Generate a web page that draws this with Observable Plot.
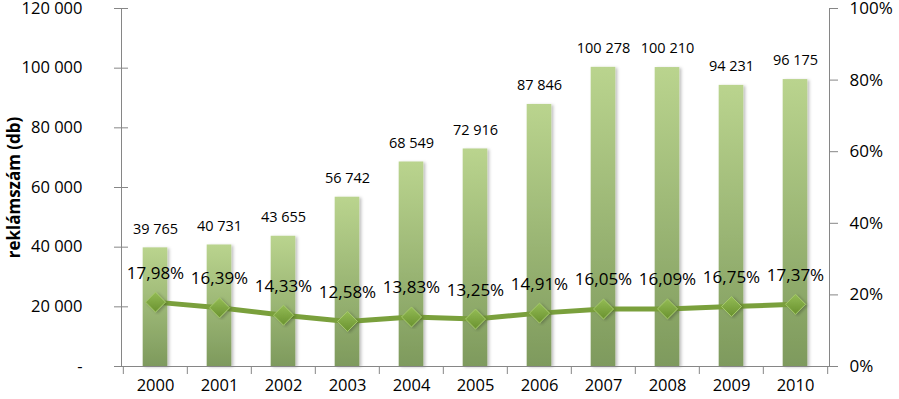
<!DOCTYPE html>
<html><head><meta charset="utf-8">
<script src="https://cdn.jsdelivr.net/npm/d3@7"></script>
<script src="https://cdn.jsdelivr.net/npm/@observablehq/plot@0.6"></script>
<style>body{margin:0;background:#fff;}</style>
</head><body><div id="chart"></div>
<script>
const years = ["2000","2001","2002","2003","2004","2005","2006","2007","2008","2009","2010"];
const counts = [39765, 40731, 43655, 56742, 68549, 72916, 87846, 100278, 100210, 94231, 96175];
const shares = [17.98, 16.39, 14.33, 12.58, 13.83, 13.25, 14.91, 16.05, 16.09, 16.75, 17.37];
const leftTicks = [0, 20000, 40000, 60000, 80000, 100000, 120000];
const rightTicks = [0, 20, 40, 60, 80, 100];
const yAxisLabel = "reklámszám (db)";

const K = 1200; // 100% on right axis <-> 120 000 on left axis
const data = years.map((y, i) => ({year: y, count: counts[i], share: shares[i], shareY: shares[i] * K}));

const fmtInt = d3.formatLocale({thousands: "\u00a0", grouping: [3], decimal: ","}).format(",d");
const fmtLeft = d => d === 0 ? "-" : fmtInt(d);
const fmtPct = d => d.toFixed(2).replace(".", ",") + "%";

const W = 899, H = 399, mL = 121, mR = 70, mT = 8, mB = 33;
const step = (W - mL - mR) / years.length;
const barW = 25;
const axisColor = "#868686";

const defs = () => {
  const g = d3.create("svg:defs");
  const lg = g.append("linearGradient").attr("id", "barGrad").attr("x1", 0).attr("y1", 0).attr("x2", 0).attr("y2", 1);
  lg.append("stop").attr("offset", "0%").attr("stop-color", "#bad48e");
  lg.append("stop").attr("offset", "100%").attr("stop-color", "#7e9a5d");
  const dg = g.append("linearGradient").attr("id", "dotGrad").attr("x1", 0).attr("y1", 0).attr("x2", 0).attr("y2", 1);
  dg.append("stop").attr("offset", "0%").attr("stop-color", "#93bb55");
  dg.append("stop").attr("offset", "100%").attr("stop-color", "#6a922f");
  const f = g.append("filter").attr("id", "shadow").attr("x", "-30%").attr("y", "-10%").attr("width", "160%").attr("height", "120%");
  f.append("feDropShadow").attr("dx", 2).attr("dy", 1).attr("stdDeviation", 1.6).attr("flood-color", "#000").attr("flood-opacity", 0.25);
  return g.node();
};

const chart = Plot.plot({
  width: W, height: H,
  marginLeft: mL, marginRight: mR, marginTop: mT, marginBottom: mB,
  style: {fontFamily: "'Open Sans', Lato, sans-serif", background: "#fff", color: "#000"},
  x: {domain: years, padding: 0, label: null},
  y: {domain: [0, 120000], label: null},
  marks: [
    defs,
    Plot.barY(data, {x: "year", y: "count", fill: "url(#barGrad)", insetLeft: (step - barW) / 2, insetRight: (step - barW) / 2}),
    Plot.frame({anchor: "left", stroke: axisColor}),
    Plot.frame({anchor: "right", stroke: axisColor}),
    Plot.frame({anchor: "bottom", stroke: axisColor}),
    Plot.axisY(leftTicks, {anchor: "left", tickSize: 14, dx: 7, text: null, stroke: axisColor, label: null}),
    Plot.axisY(leftTicks, {anchor: "left", tickSize: 0, tickPadding: 39, tickFormat: fmtLeft, fontSize: 16.5, label: null}),
    Plot.axisY(rightTicks.map(p => p * K), {anchor: "right", tickSize: 8, text: null, stroke: axisColor, label: null}),
    Plot.axisY(rightTicks.map(p => p * K), {anchor: "right", tickSize: 0, tickPadding: 20, tickFormat: d => Math.round(d / K) + "%", fontSize: 17, label: null}),
    Plot.axisX(years, {anchor: "bottom", tickSize: 8, dx: -step / 2, text: null, stroke: axisColor, label: null}),
    Plot.axisX([years[years.length - 1]], {anchor: "bottom", tickSize: 8, dx: step / 2, text: null, stroke: axisColor, label: null}),
    Plot.axisX(years, {anchor: "bottom", tickSize: 0, tickPadding: 13, fontSize: 16.5, label: null}),
    Plot.line(data, {x: "year", y: "shareY", stroke: "#7aa03c", strokeWidth: 5}),
    Plot.dot(data, {x: "year", y: "shareY", symbol: "diamond2", r: 9, fill: "url(#dotGrad)", stroke: "#a5c96a", strokeWidth: 1}),
    Plot.text(data, {x: "year", y: "count", text: d => fmtInt(d.count), dy: -19, fontSize: 14.5}),
    Plot.text(data, {x: "year", y: "shareY", text: d => fmtPct(d.share), dy: -29, fontSize: 17}),
    Plot.text([yAxisLabel], {frameAnchor: "left", textAnchor: "middle", dx: -107, rotate: -90, fontWeight: "bold", fontSize: 17})
  ]
});

chart.querySelectorAll('g[aria-label="bar"] rect').forEach(r => r.setAttribute("filter", "url(#shadow)"));
chart.querySelectorAll('g[aria-label="dot"] path').forEach(r => r.setAttribute("filter", "url(#shadow)"));
document.getElementById("chart").appendChild(chart);
</script>
</body></html>
